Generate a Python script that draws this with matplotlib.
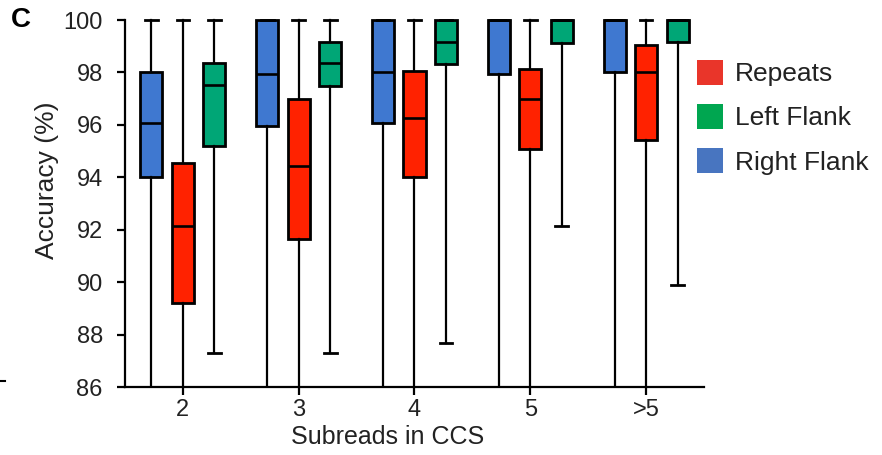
import matplotlib.pyplot as plt
from matplotlib.patches import Patch
from matplotlib.lines import Line2D

plt.rcParams['font.family'] = ['Liberation Sans', 'DejaVu Sans']

# Data (accuracy %), one value per CCS subread group
groups = ['2', '3', '4', '5', '>5']

right_lo = [85.0, 85.0, 85.0, 85.0, 85.0]     # whiskers run past the 86 floor
right_q1 = [94.0, 95.95, 96.08, 97.94, 98.0]
right_med = [96.08, 97.94, 98.03, 100.0, 100.0]
right_q3 = [98.0, 100.0, 100.0, 100.0, 100.0]
right_hi = [100.0, 100.0, 100.0, 100.0, 100.0]

rep_lo = [85.0, 85.0, 85.0, 85.0, 85.0]
rep_q1 = [89.22, 91.66, 94.02, 95.09, 95.42]
rep_med = [92.13, 94.44, 96.28, 96.97, 98.03]
rep_q3 = [94.55, 97.0, 98.07, 98.13, 99.05]
rep_hi = [100.0, 100.0, 100.0, 100.0, 100.0]

left_lo = [87.3, 87.29, 87.68, 92.13, 89.9]
left_q1 = [95.2, 97.49, 98.31, 99.13, 99.16]
left_med = [97.53, 98.36, 99.17, 100.0, 100.0]
left_q3 = [98.36, 99.17, 100.0, 100.0, 100.0]
left_hi = [100.0, 100.0, 100.0, 100.0, 100.0]

box_colors = {'Right Flank': '#3f78d0', 'Repeats': '#ff2200', 'Left Flank': '#00a676'}
legend_colors = {'Repeats': '#e9352a', 'Left Flank': '#00a650', 'Right Flank': '#4875c0'}

series = [
    ('Right Flank', -0.272, right_lo, right_q1, right_med, right_q3, right_hi),
    ('Repeats', 0.0, rep_lo, rep_q1, rep_med, rep_q3, rep_hi),
    ('Left Flank', 0.272, left_lo, left_q1, left_med, left_q3, left_hi),
]

fig = plt.figure(figsize=(8.82, 4.55), dpi=100)
ax = fig.add_axes([125 / 882, 1 - 387 / 455, 579 / 882, (387 - 16.1) / 455])

for name, off, lo, q1, med, q3, hi in series:
    stats = [dict(whislo=lo[i], q1=q1[i], med=med[i], q3=q3[i], whishi=hi[i], fliers=[])
             for i in range(len(groups))]
    pos = [i + off for i in range(len(groups))]
    ax.bxp(stats, positions=pos, widths=0.19, capwidths=0.11, patch_artist=True,
           showfliers=False, manage_ticks=False,
           boxprops=dict(facecolor=box_colors[name], edgecolor='black', linewidth=2.0),
           medianprops=dict(color='black', linewidth=1.9),
           whiskerprops=dict(color='black', linewidth=1.6),
           capprops=dict(color='black', linewidth=2.0))

ax.set_xlim(-0.5, len(groups) - 0.5)
ax.set_ylim(86, 100.15)
ax.spines['left'].set_bounds(86, 100)
ax.spines['top'].set_visible(False)
ax.spines['right'].set_visible(False)
for s in ['left', 'bottom']:
    ax.spines[s].set_linewidth(1.6)

ax.set_yticks(range(86, 101, 2))
ax.set_xticks(range(len(groups)))
ax.set_xticklabels(groups)
ax.tick_params(axis='y', length=6, width=1.6, labelsize=17, pad=10, colors='black', labelcolor='#222222')
ax.tick_params(axis='x', length=6, width=1.6, labelsize=17, pad=3, colors='black', labelcolor='#222222')

ax.set_ylabel('Accuracy (%)', fontsize=19, color='#222222')
ax.yaxis.set_label_coords(-0.114, 0.557)
ax.set_xlabel('Subreads in CCS', fontsize=18, color='#222222')
ax.xaxis.set_label_coords(0.454, -0.136)
ax.xaxis.label.set_va('center')

handles = [Patch(facecolor=legend_colors[n], edgecolor='none', label=n)
           for n in ['Repeats', 'Left Flank', 'Right Flank']]
fig.legend(handles=handles, loc='upper left', bbox_to_anchor=(697 / 882, 1 - 59.5 / 455),
           frameon=False, fontsize=19, handlelength=1.0, handleheight=1.1,
           handletextpad=0.45, labelspacing=0.67, borderpad=0, borderaxespad=0,
           labelcolor='#222222')

fig.text(21 / 882, 1 - 20 / 455, 'C', fontsize=20, fontweight='bold', ha='center', va='center')
fig.add_artist(Line2D([0, 5 / 882], [1 - 381 / 455, 1 - 381 / 455], color='black', linewidth=1.5))

fig.savefig('out.png', dpi=100)
